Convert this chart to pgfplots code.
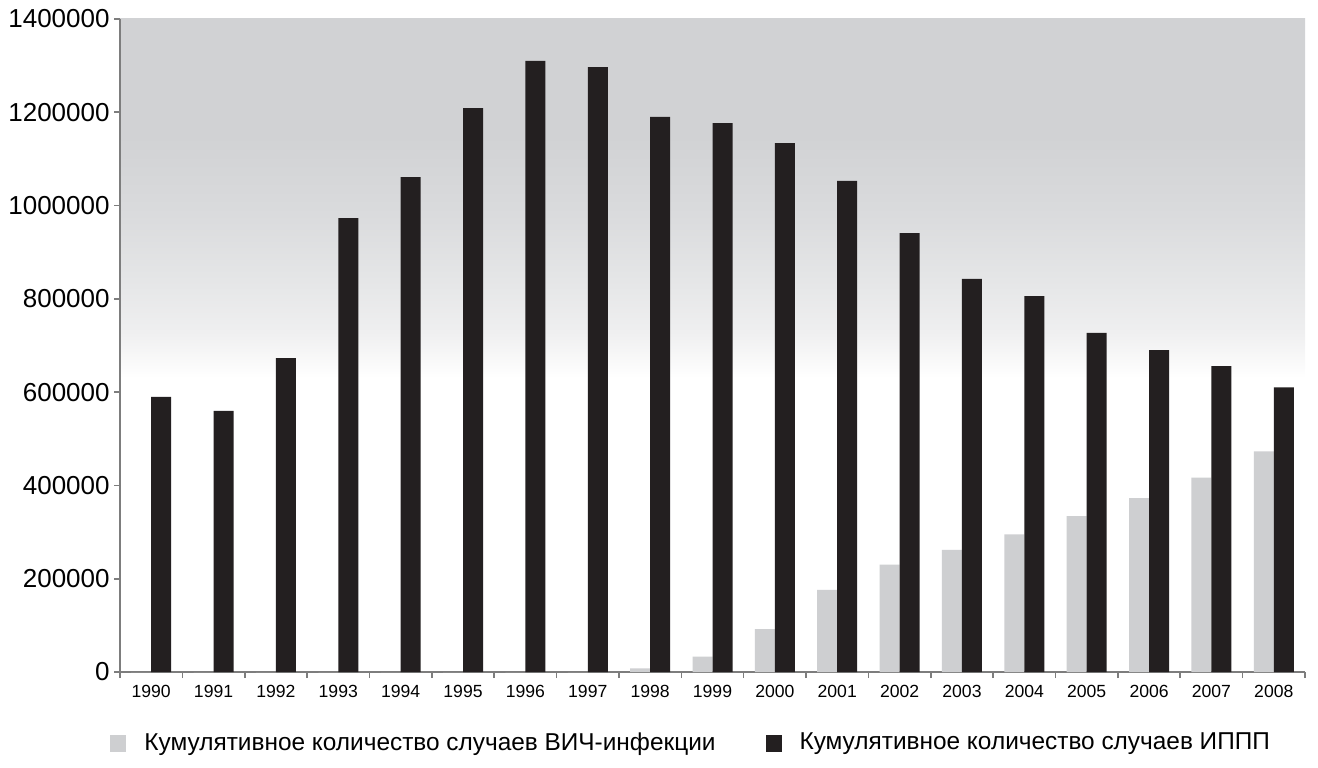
\documentclass[border=0pt]{standalone}
\usepackage{fontspec}
\setmainfont{Liberation Sans}
\usepackage{pgfplots}
\usepackage{pgfplotstable}
\pgfplotsset{compat=1.18}
\definecolor{hivgray}{RGB}{206,207,209}
\definecolor{stiblack}{RGB}{35,31,32}
\definecolor{bgtop}{RGB}{209,210,212}
\definecolor{bgA}{RGB}{218,219,221}
\definecolor{bgB}{RGB}{229,230,231}
\definecolor{bgC}{RGB}{239,239,240}
\definecolor{axgray}{RGB}{125,125,125}
\pgfdeclareverticalshading{bgshade}{100bp}{color(0bp)=(white); color(25bp)=(white); color(47.5bp)=(white); color(51bp)=(bgC); color(55bp)=(bgB); color(60bp)=(bgA); color(66bp)=(bgtop); color(75bp)=(bgtop); color(100bp)=(bgtop)}
\pgfplotstableread{
x year hiv sti
0 1990 0 590000
1 1991 0 560000
2 1992 0 673000
3 1993 0 973000
4 1994 0 1061000
5 1995 0 1209000
6 1996 0 1310000
7 1997 0 1297000
8 1998 8000 1190000
9 1999 33000 1177000
10 2000 92000 1134000
11 2001 176000 1053000
12 2002 230000 941000
13 2003 262000 843000
14 2004 295000 806000
15 2005 334000 727000
16 2006 373000 690000
17 2007 417000 656000
18 2008 473000 610000
}\datatab
\begin{document}
\begin{tikzpicture}
\path[use as bounding box] (0,0) rectangle (659pt,383.5pt);
\begin{axis}[
  at={(60pt,47.5pt)}, anchor=south west,
  width=592.5pt, height=326.5pt, scale only axis,
  xmin=-0.5, xmax=18.5, ymin=0, ymax=1400000,
  ybar=0pt, bar width=10pt,
  axis x line*=bottom, axis y line*=left,
  axis line style={-, draw=axgray, line width=0.8pt},
  tick align=outside, major tick length=3pt,
  tick style={draw=axgray, line width=0.8pt},
  xtick={-0.5,0.5,...,18.5}, xticklabels={},
  extra x ticks={0,...,18},
  extra x tick labels={1990,1991,1992,1993,1994,1995,1996,1997,1998,1999,2000,2001,2002,2003,2004,2005,2006,2007,2008},
  extra x tick style={major tick length=0pt, xticklabel style={font=\fontsize{8.8}{10}\selectfont, yshift=-3pt}},
  ytick={0,200000,...,1400000},
  scaled y ticks=false,
  yticklabel style={font=\fontsize{13}{15}\selectfont, inner sep=2pt},
  /pgf/number format/.cd, fixed, 1000 sep={}, assume math mode=true, /pgfplots/.cd,
  axis background/.style={shading=bgshade},
  legend columns=2,
  legend cell align=left,
  legend image code/.code={\fill[#1,draw=none] (0pt,-4.5pt) rectangle (8pt,4pt);},
  legend style={at={(axis description cs:-0.0084,-0.1087)}, anchor=west, draw=none, fill=none,
    inner sep=0pt, font=\fontsize{12.2}{14}\selectfont, column sep=7pt,
    /tikz/every even column/.append style={column sep=23pt}},
]
\addplot[fill=hivgray, draw=none] table[x=x, y=hiv] {\datatab};
\addlegendentry{Кумулятивное количество случаев ВИЧ-инфекции}
\addplot[fill=stiblack, draw=none] table[x=x, y=sti] {\datatab};
\addlegendentry{Кумулятивное количество случаев ИППП}
\end{axis}
\end{tikzpicture}
\end{document}
